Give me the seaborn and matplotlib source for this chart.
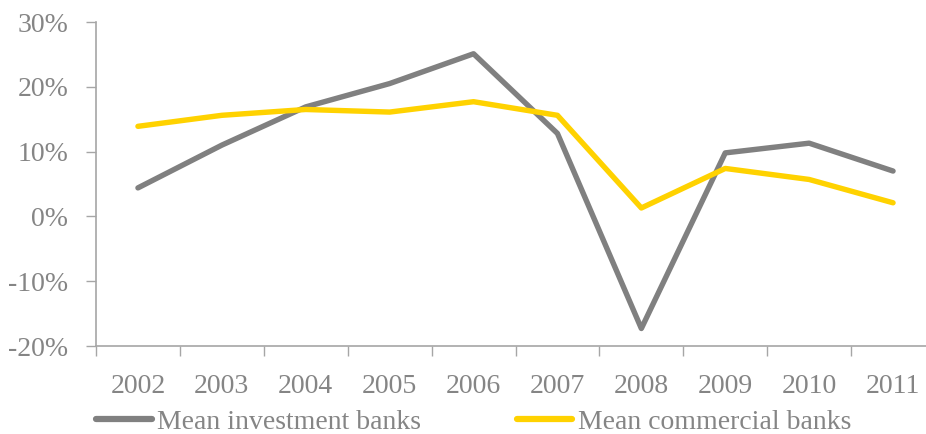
import numpy as np
import pandas as pd
import matplotlib
matplotlib.use("Agg")
import matplotlib.pyplot as plt
from matplotlib.ticker import FixedLocator, FuncFormatter
import seaborn as sns

years = ["2002", "2003", "2004", "2005", "2006", "2007", "2008", "2009", "2010", "2011"]
investment = [4.4, 11.0, 16.9, 20.5, 25.1, 12.8, -17.3, 9.8, 11.3, 7.0]
commercial = [13.9, 15.6, 16.5, 16.1, 17.7, 15.6, 1.3, 7.4, 5.7, 2.1]

sns.set_style("white")
plt.rcParams["font.family"] = ["Liberation Serif", "DejaVu Serif"]

text_col = "#858585"
axis_col = "#a6a6a6"

df = pd.DataFrame({
    "pos": list(range(len(years))) * 2,
    "value": investment + commercial,
    "series": ["Mean investment banks"] * len(years) + ["Mean commercial banks"] * len(years),
})

fig = plt.figure(figsize=(9.26, 4.34), dpi=100)
ax = fig.add_axes([96 / 926, 1 - 346 / 434, (935 - 96) / 926, (346 - 22) / 434])

sns.lineplot(data=df, x="pos", y="value", hue="series",
             palette={"Mean investment banks": "#808080", "Mean commercial banks": "#FFD200"},
             linewidth=3.9, ax=ax, legend=False, solid_capstyle="round")

ax.set_xlim(-0.5, len(years) - 0.5)
ax.set_ylim(-20, 30)
ax.set_yticks(np.arange(-20, 31, 10))
ax.yaxis.set_major_formatter(FuncFormatter(lambda v, p: f"{v:.0f}%"))

# category boundaries as major ticks, labels on centres
ax.xaxis.set_major_locator(FixedLocator(np.arange(-0.5, len(years), 1.0)))
ax.xaxis.set_major_formatter(FuncFormatter(lambda v, p: ""))
ax.xaxis.set_minor_locator(FixedLocator(np.arange(len(years))))
ax.set_xticklabels(years, minor=True)

ax.tick_params(axis="x", which="major", length=7, width=1, color=axis_col, direction="out", bottom=True)
ax.tick_params(axis="x", which="minor", length=0, pad=20, labelsize=20, labelcolor=text_col, bottom=True)
ax.tick_params(axis="y", which="major", length=7, width=1, color=axis_col, direction="out", pad=13,
               labelsize=20, labelcolor=text_col, left=True)

for side in ["top", "right"]:
    ax.spines[side].set_visible(False)
for side in ["left", "bottom"]:
    ax.spines[side].set_color(axis_col)
    ax.spines[side].set_linewidth(1.2)

ax.set_xlabel("")
ax.set_ylabel("")

h1, = ax.plot([], [], color="#808080", lw=4.5, solid_capstyle="round")
h2, = ax.plot([], [], color="#FFD200", lw=4.5, solid_capstyle="round")
fig.legend([h1, h2], ["Mean investment banks", "Mean commercial banks"],
           loc="center left", bbox_to_anchor=(96 / 926, 1 - 422 / 434), ncol=2,
           frameon=False, fontsize=20, labelcolor=text_col, handlelength=2.0,
           handletextpad=0.2, columnspacing=3.45, borderpad=0, borderaxespad=0)

fig.savefig("out.png", dpi=100)
